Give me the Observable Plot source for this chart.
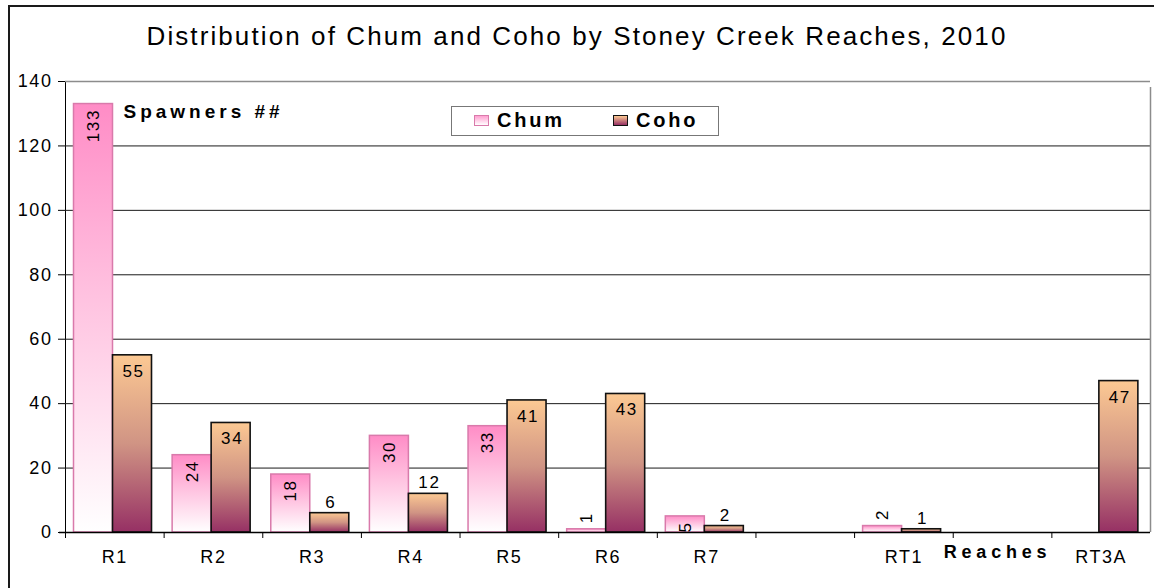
<!DOCTYPE html>
<html>
<head>
<meta charset="utf-8">
<script src="https://cdn.jsdelivr.net/npm/d3@7"></script>
<script src="https://cdn.jsdelivr.net/npm/@observablehq/plot@0.6"></script>
<style>
  html, body { margin: 0; padding: 0; background: #fff; overflow: hidden; }
  #chart { position: relative; width: 1154px; height: 588px; overflow: hidden; font-family: "Liberation Sans", Arial, sans-serif; }
  #border { position: absolute; left: 8px; top: 5px; width: 1170px; height: 600px; border: 2px solid #1a1a1a; box-sizing: border-box; pointer-events: none; }
  #title { height: 60px; box-sizing: border-box; padding-top: 23px; text-align: center; font-size: 26px; line-height: 27px; letter-spacing: 2.1px; color: #000; }
  #legend { position: absolute; left: 451px; top: 106px; width: 268px; height: 30px; box-sizing: border-box; border: 1.5px solid #777; background: #fff; font-weight: bold; font-size: 20px; letter-spacing: 2.8px; color: #000; }
  .item { display: flex; align-items: center; position: absolute; top: 0; height: 27px; }
  .sw { width: 15px; height: 11px; box-sizing: border-box; margin-right: 8px; }
  svg { display: block; }
</style>
</head>
<body>
<div id="chart">
  <div id="title">Distribution of Chum and Coho by Stoney Creek Reaches, 2010</div>
  <div id="plot"></div>
  <div id="legend"></div>
  <div id="border"></div>
</div>
<script>
// ---- data ----
const reaches = ["R1", "R2", "R3", "R4", "R5", "R6", "R7", "", "RT1", " ", "RT3A"];
const chum    = [133, 24, 18, 30, 33, 1, 5, null, 2, null, null];
const coho    = [55, 34, 6, 12, 41, 43, 2, null, 1, null, 47];
const yTicks  = [0, 20, 40, 60, 80, 100, 120, 140];
const seriesNames = ["Chum", "Coho"];
const yTitle = "Spawners ##";
const xTitle = "Reaches";
const xTitleSlot = " ";

const data = reaches.map((r, i) => ({reach: r, chum: chum[i], coho: coho[i]}));

// ---- layout ----
const W = 1154, H = 528, mL = 65, mR = 4, mT = 21, mB = 56;
const bw = (W - mL - mR) / reaches.length;
const barW = 39, lead = 8.5;
const chumIL = lead, chumIR = bw - lead - barW;
const cohoIL = lead + barW, cohoIR = bw - lead - 2 * barW;
const chumDx = -bw / 2 + lead + barW / 2;
const cohoDx = -bw / 2 + lead + barW * 1.5;
const yMax = d3.max(yTicks);

const chumStroke = "#d97aab";
const cohoStroke = "#111";

const chart = Plot.plot({
  width: W, height: H,
  marginLeft: mL, marginRight: mR, marginTop: mT, marginBottom: mB,
  style: {fontFamily: "'Liberation Sans', Arial, sans-serif", fontSize: "18px", letterSpacing: "1.6px", color: "#000", background: "transparent", overflow: "visible"},
  x: {type: "band", domain: reaches, padding: 0, round: false, tickSize: 0, tickPadding: 18, label: null},
  y: {domain: [0, yMax], ticks: yTicks, tickSize: 7, tickPadding: 6, line: true, label: null},
  marks: [
    Plot.ruleY(yTicks.filter(t => t > 0 && t < yMax), {stroke: "#1a1a1a", strokeWidth: 1}),
    Plot.ruleY([yMax], {stroke: "#8c8c8c", strokeWidth: 1.5}),
    Plot.ruleX([reaches[reaches.length - 1]], {x: d => d, dx: bw / 2, y1: 0, y2: yMax, insetBottom: -6, stroke: "#8c8c8c", strokeWidth: 1.5}),
    Plot.ruleX(reaches, {x: d => d, dx: -bw / 2, y1: 0, y2: 0, insetBottom: -6, stroke: "#000", strokeWidth: 1}),
    Plot.barY(data, {x: "reach", y: "chum", fill: "url(#chumGrad)", stroke: chumStroke, strokeWidth: 1.5, insetLeft: chumIL, insetRight: chumIR}),
    Plot.barY(data, {x: "reach", y: "coho", fill: "url(#cohoGrad)", stroke: cohoStroke, strokeWidth: 1.6, insetLeft: cohoIL, insetRight: cohoIR}),
    Plot.ruleY([0], {stroke: "#000", strokeWidth: 1.5, insetLeft: -6}),
    // chum labels (rotated)
    Plot.text(data.filter(d => d.chum != null && d.chum >= 3), {x: "reach", y: "chum", text: d => String(d.chum), rotate: -90, textAnchor: "end", lineAnchor: "middle", dx: chumDx, dy: 5, fontSize: 17}),
    Plot.text(data.filter(d => d.chum != null && d.chum < 3), {x: "reach", y: "chum", text: d => String(d.chum), rotate: -90, textAnchor: "start", lineAnchor: "middle", dx: chumDx, dy: -6, fontSize: 17}),
    // coho labels
    Plot.text(data.filter(d => d.coho != null && d.coho >= 20), {x: "reach", y: "coho", text: d => String(d.coho), dx: cohoDx + 1, dy: 16, fontSize: 17}),
    Plot.text(data.filter(d => d.coho != null && d.coho < 20), {x: "reach", y: "coho", text: d => String(d.coho), dx: cohoDx + 1, dy: -11, fontSize: 17}),
    // axis titles
    Plot.text([yTitle], {frameAnchor: "top-left", text: d => d, dx: 58, dy: 23, textAnchor: "start", fontWeight: "bold", fontSize: 19}),
    Plot.text([xTitle], {x: () => xTitleSlot, frameAnchor: "bottom", text: d => d, dx: -5, dy: 25, fontWeight: "bold", fontSize: 18})
  ]
});

// wider letter spacing on the two axis titles (as in the original)
chart.querySelectorAll("text").forEach(t => {
  if (t.textContent === yTitle) t.setAttribute("letter-spacing", "4px");
  if (t.textContent === xTitle) t.setAttribute("letter-spacing", "4.8px");
});

const defs = document.createElementNS("http://www.w3.org/2000/svg", "defs");
defs.innerHTML =
  '<linearGradient id="chumGrad" x1="0" y1="0" x2="0" y2="1">' +
    '<stop offset="0" stop-color="#ff8cc6"/><stop offset="0.45" stop-color="#ffc2e0"/><stop offset="1" stop-color="#ffffff"/>' +
  '</linearGradient>' +
  '<linearGradient id="cohoGrad" x1="0" y1="0" x2="0" y2="1">' +
    '<stop offset="0" stop-color="#fcc993"/><stop offset="0.5" stop-color="#d09484"/><stop offset="1" stop-color="#963064"/>' +
  '</linearGradient>';
chart.insertBefore(defs, chart.firstChild);
document.getElementById("plot").appendChild(chart);

// legend
const legend = document.getElementById("legend");
const swatches = [
  {name: seriesNames[0], bg: "linear-gradient(#ff9fd0, #ffffff)", border: chumStroke, left: 22},
  {name: seriesNames[1], bg: "linear-gradient(#fcc993, #963064)", border: cohoStroke, left: 161}
];
swatches.forEach(s => {
  const it = document.createElement("div");
  it.className = "item";
  it.style.left = s.left + "px";
  const sw = document.createElement("div");
  sw.className = "sw";
  sw.style.background = s.bg;
  sw.style.border = "1.5px solid " + s.border;
  const t = document.createElement("span");
  t.textContent = s.name;
  it.appendChild(sw); it.appendChild(t);
  legend.appendChild(it);
});
</script>
</body>
</html>
